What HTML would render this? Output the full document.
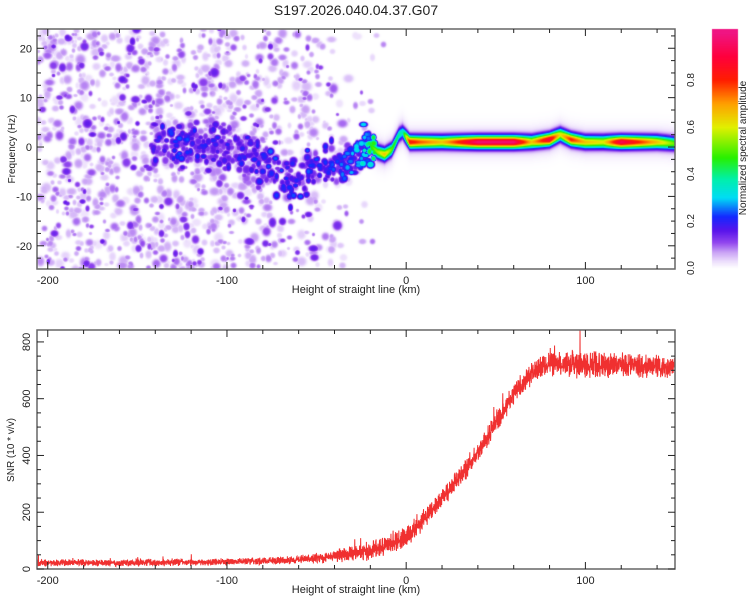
<!DOCTYPE html>
<html><head><meta charset="utf-8">
<style>
html,body{margin:0;padding:0;background:#fff;}
#wrap{position:relative;width:750px;height:600px;overflow:hidden;font-family:"Liberation Sans",sans-serif;}
canvas{position:absolute;left:0;top:0;}
svg{position:absolute;left:0;top:0;}
</style></head>
<body>
<div id="wrap">
<canvas id="heat" width="750" height="600"></canvas>
<svg id="svg" width="750" height="600"></svg>
</div>
<script>
// ---------- DATA ----------
const ridgeHeights = [-140,-130,-120,-110,-100,-90,-80,-72,-65,-58,-50,-42,-35,-28,-22,-16,-12,-8,-4,-2,2,8,20,40,60,70,80,86,92,100,110,120,140,150];
const ridgeFreqs   = [1,1,0.5,0.5,0,-1,-3,-5,-7,-6,-4,-4,-3,-2,1,-1,-1.5,-0.5,2.5,3,1,1,1,1,1,1,1.5,2.5,1.5,1,1,1,1,0.7];
const ridgeAmps    = [0.17,0.2,0.2,0.17,0.17,0.18,0.2,0.22,0.2,0.21,0.21,0.22,0.23,0.27,0.35,0.5,0.6,0.45,0.33,0.3,0.78,0.7,0.6,0.92,0.92,0.6,0.85,0.55,0.75,0.6,0.55,0.88,0.6,0.45];
const noiseHeights = [-206,-150,-100,-80,-60,-50,-40,-30,-20,-10,-5,150];
const noiseDensity = [1,1,0.9,0.8,0.7,0.45,0.3,0.2,0.08,0.015,0,0];
const snrHeights = [-206,-150,-100,-60,-40,-30,-20,-10,0,10,20,30,40,50,60,70,80,90,100,120,150];
const snrMean    = [22,22,25,32,45,55,65,85,115,175,250,325,410,515,615,690,725,725,720,718,712];
const snrNoise   = [14,14,14,17,24,32,40,40,42,40,38,40,40,42,42,45,48,55,55,50,45];
const xTicks = [-200,-100,0,100];
const fTicks = [-20,-10,0,10,20];
const snrTicks = [0,200,400,600,800];
const cbTicks = [0.0,0.2,0.4,0.6,0.8];

// ---------- SCALES ----------
const X0=37,X1=675, xMin=-206,xMax=150;
const xs=h=>X0+(h-xMin)*(X1-X0)/(xMax-xMin);
const TY0=29,TY1=269, fMin=-24.7,fMax=23.9;
const fy=f=>TY1-(f-fMin)*(TY1-TY0)/(fMax-fMin);
const BY0=330,BY1=569, sMin=0,sMax=842;
const sy=s=>BY1-(s-sMin)*(BY1-BY0)/(sMax-sMin);
const CB0=268,CB1=33;
const cy=v=>CB0-v*(CB0-CB1);

function interp(xa,ya,x){
  if(x<=xa[0])return ya[0];
  for(let i=1;i<xa.length;i++){if(x<=xa[i]){const t=(x-xa[i-1])/(xa[i]-xa[i-1]);return ya[i-1]+t*(ya[i]-ya[i-1]);}}
  return ya[ya.length-1];
}
let seed=12345;
function rnd(){seed|=0;seed=seed+0x6D2B79F5|0;let t=Math.imul(seed^seed>>>15,1|seed);t=t+Math.imul(t^t>>>7,61|t)^t;return((t^t>>>14)>>>0)/4294967296;}

const stops=[[0,[255,255,255]],[0.03,[236,222,252]],[0.07,[200,160,245]],[0.11,[145,70,238]],[0.16,[90,20,235]],[0.22,[20,40,255]],[0.3,[0,220,245]],[0.38,[0,240,170]],[0.47,[40,240,0]],[0.6,[225,240,0]],[0.7,[255,160,0]],[0.8,[255,30,0]],[0.9,[255,0,60]],[1,[240,20,130]]];
function cmap(v){
  v=Math.max(0,Math.min(1,v));
  for(let i=1;i<stops.length;i++){if(v<=stops[i][0]){const a=stops[i-1],b=stops[i],t=(v-a[0])/(b[0]-a[0]);return a[1].map((c,k)=>Math.round(c+t*(b[1][k]-c)));}}
  return stops[stops.length-1][1];
}

// ---------- HEATMAP ----------
const ctx=document.getElementById('heat').getContext('2d');
const W=X1-X0,H=TY1-TY0;
const field=new Float32Array(W*H);
const pxPerHz=(TY1-TY0)/(fMax-fMin), pxPerKm=(X1-X0)/(xMax-xMin);
function addBlob(cx,cyp,rx,ry,a){
  const RX=Math.ceil(rx*1.6),RY=Math.ceil(ry*1.6);
  for(let j=-RY;j<=RY;j++){const yy=Math.round(cyp)+j-TY0;if(yy<0||yy>=H)continue;
    for(let i=-RX;i<=RX;i++){const xx=Math.round(cx)+i-X0;if(xx<0||xx>=W)continue;
      const q=(i*i)/(rx*rx)+(j*j)/(ry*ry);
      const v=a*Math.exp(-q*q);const k=yy*W+xx;if(v>field[k])field[k]=v;}}
}
// background noise blobs
for(let n=0;n<3400;n++){
  const h=xMin+rnd()*(xMax-xMin), f=fMin+rnd()*(fMax-fMin);
  if(rnd()>interp(noiseHeights,noiseDensity,h))continue;
  let a=0.025+rnd()*0.07; if(rnd()<0.15)a+=0.06;
  const r=2+rnd()*2.5;
  addBlob(xs(h),fy(f),r*(0.8+rnd()*0.5),r*(0.8+rnd()*0.5),a);
}
// blobs around ridge in chaotic region
for(let n=0;n<450;n++){
  const h=-142+rnd()*125; const fc=interp(ridgeHeights,ridgeFreqs,h);
  const f=fc+(rnd()+rnd()+rnd()-1.5)*4;
  const a=interp(ridgeHeights,ridgeAmps,h)*(0.45+rnd()*0.75);
  addBlob(xs(h),fy(f),2.5+rnd()*2,2.5+rnd()*2,a);
}
// smooth ridge
for(let xx=0;xx<W;xx++){
  const h=xMin+(xx+0.5)/pxPerKm; if(h<-20)continue;
  const fc=interp(ridgeHeights,ridgeFreqs,h), A=interp(ridgeHeights,ridgeAmps,h);
  for(let yy=0;yy<H;yy++){
    const f=fMax-(yy+0.5)/pxPerHz, d=f-fc;
    const v=A*Math.exp(-d*d/(2*0.85*0.85))+0.06*Math.exp(-d*d/(2*1.8*1.8));
    const k=yy*W+xx;if(v>field[k])field[k]=v;
  }
}
const img=ctx.createImageData(W,H);
for(let k=0;k<W*H;k++){const c=cmap(field[k]);img.data[k*4]=c[0];img.data[k*4+1]=c[1];img.data[k*4+2]=c[2];img.data[k*4+3]=255;}
ctx.putImageData(img,X0,TY0);
// colorbar
for(let y=CB1-4;y<=CB0;y++){const c=cmap((CB0-y)/(CB0-CB1));ctx.fillStyle=`rgb(${c})`;ctx.fillRect(712,y,26,1);}

// ---------- SVG ----------
const NS='http://www.w3.org/2000/svg';const svg=document.getElementById('svg');
function el(tag,attrs,parent){const e=document.createElementNS(NS,tag);for(const k in attrs)e.setAttribute(k,attrs[k]);(parent||svg).appendChild(e);return e;}
function txt(s,attrs,parent){const t=el('text',attrs,parent);t.textContent=s;return t;}

const title=txt('S197.2026.040.04.37.G07',{x:356,y:15,'font-size':14,'text-anchor':'middle',fill:'#222'});



// SNR line
let d='';
for(let h=xMin;h<=xMax;h+=0.1){
  const nz=interp(snrHeights,snrNoise,h);
  let s=interp(snrHeights,snrMean,h)+(rnd()+rnd()-1)*nz;
  if(rnd()<0.015)s+=rnd()*nz*1.6;
  if(Math.abs(h-97)<0.06)s=842;
  s=Math.max(0,Math.min(sMax,s));
  d+=(d?'L':'M')+xs(h).toFixed(2)+' '+sy(s).toFixed(2);
}
const line=el('path',{d:d,fill:'none',stroke:'#f03030','stroke-width':1});



function axes(y0,y1,name){
  const g=el('g',{});
  
  
  el('rect',{x:X0,y:y0,width:X1-X0,height:y1-y0,fill:'none',stroke:'#666','stroke-width':1.5},g);
  for(let h=-200;h<=xMax;h+=20){const big=h%100===0;const x=xs(h);
    el('line',{x1:x,x2:x,y1:y1,y2:y1-(big?7:4),stroke:'#222'},g);
    el('line',{x1:x,x2:x,y1:y0,y2:y0+(big?7:4),stroke:'#222'},g);}
  xTicks.forEach(h=>{const t=txt(h,{x:xs(h),y:y1+15,'font-size':11,'text-anchor':'middle',fill:'#222'},g);
    
    });
  const xt=txt('Height of straight line (km)',{x:356,y:y1+24,'font-size':11,'text-anchor':'middle',fill:'#222'},g);
  
  
  return g;
}
const gt=axes(TY0,TY1,'spectrogram-axes');
for(let f=-22.5;f<=22.5;f+=2.5){const big=f%10===0;const y=fy(f);
  el('line',{x1:X0,x2:X0+(big?7:4),y1:y,y2:y,stroke:'#222'},gt);
  el('line',{x1:X1,x2:X1-(big?7:4),y1:y,y2:y,stroke:'#222'},gt);}
fTicks.forEach(f=>{const t=txt(f,{x:32,y:fy(f)+4,'font-size':11,'text-anchor':'end',fill:'#222'},gt);
  
  });
const yt1=txt('Frequency (Hz)',{x:15,y:149,'font-size':10,'text-anchor':'middle',fill:'#222',transform:'rotate(-90 15 149)'},gt);



const gb=axes(BY0,BY1,'snr-axes');
for(let s=0;s<=sMax;s+=50){const big=s%200===0;const y=sy(s);
  el('line',{x1:X0,x2:X0+(big?7:4),y1:y,y2:y,stroke:'#222'},gb);
  el('line',{x1:X1,x2:X1-(big?7:4),y1:y,y2:y,stroke:'#222'},gb);}
snrTicks.forEach(s=>{const t=txt(s,{x:30,y:sy(s),'font-size':11,'text-anchor':'middle',fill:'#222',transform:`rotate(-90 30 ${sy(s)})`},gb);
  
  });
const yt2=txt('SNR (10 * v/v)',{x:14,y:450,'font-size':10,'text-anchor':'middle',fill:'#222',transform:'rotate(-90 14 450)'},gb);



const gc=el('g',{});


cbTicks.forEach(v=>{const t=txt(v.toFixed(1),{x:694,y:cy(v),'font-size':10,'text-anchor':'middle',fill:'#222',transform:`rotate(-90 694 ${cy(v)})`},gc);
  
  });
const ct=txt('Normalized spectral amplitude',{x:746,y:148,'font-size':10,'text-anchor':'middle',fill:'#222',transform:'rotate(-90 746 148)'},gc);


</script>
</body></html>
